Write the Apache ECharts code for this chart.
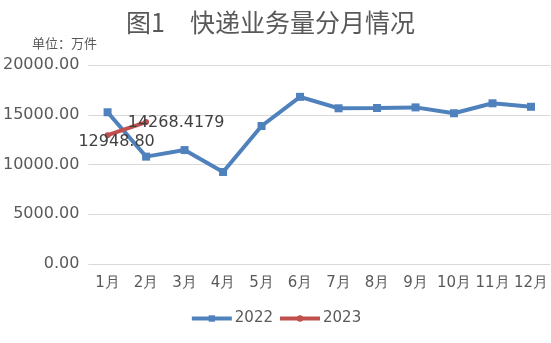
<!DOCTYPE html>
<html><head><meta charset="utf-8">
<script src="https://cdn.jsdelivr.net/npm/echarts@6/dist/echarts.min.js"></script>
<style>html,body{margin:0;padding:0;background:#fff}#c{width:551px;height:343px}</style>
</head><body><div id="c"></div>
<script>
const categories = ['1月','2月','3月','4月','5月','6月','7月','8月','9月','10月','11月','12月'];
const series2022 = [15250, 10790, 11450, 9250, 13870, 16800, 15650, 15680, 15740, 15150, 16150, 15800];
const series2023 = [12948.80, 14268.4179];
const labels2023 = ['12948.80', '14268.4179'];
const yTicks = [0, 5000, 10000, 15000, 20000];

const chart = echarts.init(document.getElementById('c'));
chart.setOption({
  animation: false,
  title: {
    text: '图1\u3000快递业务量分月情况',
    left: 121, top: 5,
    textStyle: {fontFamily: 'Noto Sans CJK SC', fontSize: 25, fontWeight: 'normal', color: '#595959'}
  },
  graphic: [{
    type: 'text', left: 32, top: 37,
    style: {text: '单位：万件', fontFamily: 'Noto Sans CJK SC', fontSize: 13, fill: '#595959'}
  }],
  legend: {
    bottom: 12, left: 'center',
    itemWidth: 40, itemHeight: 8, itemGap: 5,
    lineStyle: {width: 4},
    textStyle: {fontFamily: 'DejaVu Sans', fontSize: 15, color: '#595959', padding: [0, 0, 0, -2]},
    data: ['2022', '2023']
  },
  grid: {left: 88, right: 0, top: 65, bottom: 79},
  xAxis: {
    type: 'category', data: categories,
    axisLine: {show: false}, axisTick: {show: false},
    axisLabel: {fontFamily: 'DejaVu Sans', fontSize: 15, color: '#595959', margin: 12, interval: 0}
  },
  yAxis: {
    type: 'value', min: yTicks[0], max: yTicks[yTicks.length - 1], interval: 5000,
    axisLine: {show: false}, axisTick: {show: false},
    splitLine: {lineStyle: {color: '#d9d9d9', width: 1}},
    axisLabel: {fontFamily: 'DejaVu Sans', fontSize: 16, color: '#595959', margin: 9,
      formatter: v => v.toFixed(2)}
  },
  series: [{
    name: '2022', type: 'line', data: series2022,
    symbol: 'rect', symbolSize: 8,
    lineStyle: {color: '#4F81BD', width: 4},
    itemStyle: {color: '#4F81BD'}
  }, {
    name: '2023', type: 'line',
    symbol: 'circle', symbolSize: 6,
    lineStyle: {color: '#C0504D', width: 4},
    itemStyle: {color: '#C0504D'},
    label: {
      show: true, fontFamily: 'DejaVu Sans', fontSize: 16, color: '#404040',
      formatter: p => labels2023[p.dataIndex]
    },
    data: [
      {value: series2023[0], label: {position: 'inside', offset: [9, 7]}},
      {value: series2023[1], label: {position: 'inside', offset: [30, 1]}}
    ]
  }]
});
</script></body></html>
